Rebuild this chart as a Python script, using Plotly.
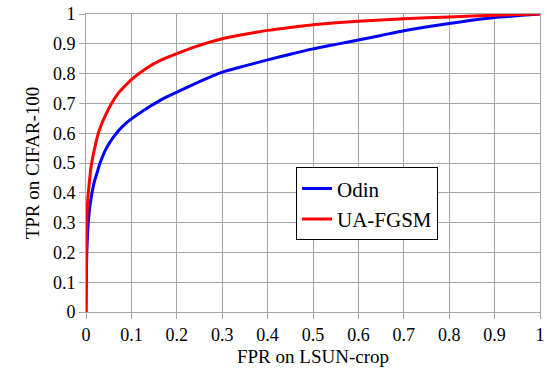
import plotly.graph_objects as go

odin_fpr = [0, 0.001, 0.002, 0.005, 0.0095, 0.018, 0.025, 0.031, 0.045, 0.062, 0.08, 0.1, 0.119, 0.142,
            0.17, 0.2, 0.238, 0.3, 0.35, 0.4, 0.45, 0.5, 0.55, 0.6, 0.65, 0.7, 0.8, 0.9, 1.0]
odin_tpr = [0, 0.14, 0.21, 0.30, 0.365, 0.435, 0.47, 0.50, 0.55, 0.59, 0.622, 0.648, 0.668, 0.691,
            0.716, 0.738, 0.765, 0.805, 0.826, 0.846, 0.865, 0.883, 0.898, 0.913, 0.928, 0.944, 0.968, 0.988, 1.0]

ua_fpr = [0, 0.0005, 0.001, 0.002, 0.004, 0.007, 0.011, 0.018, 0.029, 0.048, 0.07, 0.1, 0.135, 0.165,
          0.2, 0.238, 0.3, 0.35, 0.4, 0.45, 0.5, 0.6, 0.7, 0.8, 0.9, 1.0]
ua_tpr = [0, 0.15, 0.25, 0.32, 0.38, 0.43, 0.486, 0.542, 0.609, 0.676, 0.732, 0.78, 0.82, 0.845,
          0.867, 0.889, 0.917, 0.932, 0.945, 0.955, 0.964, 0.976, 0.984, 0.99, 0.996, 1.0]

tick_vals = [i / 10 for i in range(11)]
tick_text = ["0", "0.1", "0.2", "0.3", "0.4", "0.5", "0.6", "0.7", "0.8", "0.9", "1"]

FONT = "Liberation Serif"
GRID = "#a6a6a6"

fig = go.Figure()
fig.add_trace(go.Scatter(x=odin_fpr, y=odin_tpr, mode="lines", name="Odin",
                         line=dict(color="#0000ff", width=3, shape="spline", smoothing=0.5)))
fig.add_trace(go.Scatter(x=ua_fpr, y=ua_tpr, mode="lines", name="UA-FGSM",
                         line=dict(color="#ff0000", width=3, shape="spline", smoothing=0.5)))

axis_common = dict(
    range=[0, 1], tickvals=tick_vals, ticktext=tick_text,
    showgrid=True, gridcolor=GRID, gridwidth=1,
    zeroline=False, showline=True, linecolor=GRID, linewidth=1, mirror=True,
    ticks="outside", ticklen=6, tickcolor=GRID, automargin=False,
    tickfont=dict(family=FONT, size=18, color="black"),
)

fig.update_layout(
    width=547, height=372,
    margin=dict(l=86, r=7, t=14, b=60),
    paper_bgcolor="white", plot_bgcolor="white",
    font=dict(family=FONT, color="black"),
    xaxis=dict(**axis_common, title=dict(text="FPR on LSUN-crop", font=dict(family=FONT, size=19), standoff=6)),
    yaxis=dict(**axis_common, title=dict(text="TPR on CIFAR-100", font=dict(family=FONT, size=19), standoff=8)),
    legend=dict(x=0.4626, y=0.485, xanchor="left", yanchor="top",
                bordercolor="black", borderwidth=1, bgcolor="white",
                font=dict(family=FONT, size=21), itemwidth=30, tracegroupgap=0),
    showlegend=True,
)

fig.write_html("out.html", config={"displayModeBar": False},
               post_script="document.body.style.margin='0';document.body.style.padding='0';")
